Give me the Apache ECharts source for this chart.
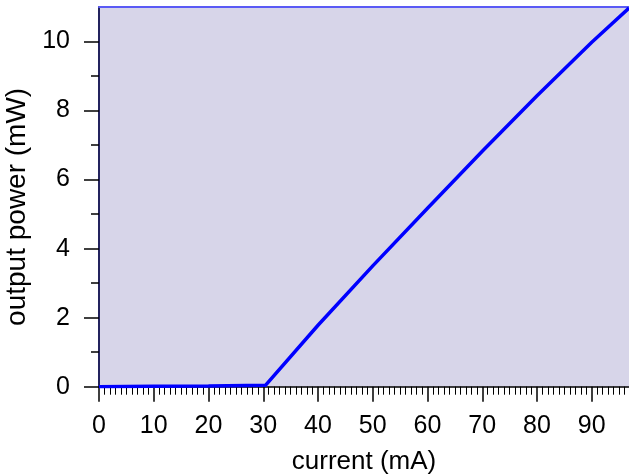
<!DOCTYPE html>
<html>
<head>
<meta charset="utf-8">
<script src="https://cdn.jsdelivr.net/npm/echarts@6/dist/echarts.min.js"></script>
<style>html,body{margin:0;padding:0;background:#fff;}#c{width:629px;height:475px;}</style>
</head>
<body>
<div id="c"></div>
<script>
// current (mA)
var currentMA = [0, 10, 20, 30.4, 40, 50, 60, 70, 80, 90, 96.8];
// output power (mW)
var powerMW = [0, 0.01, 0.02, 0.04, 1.78, 3.50, 5.17, 6.82, 8.43, 9.98, 10.97];
// tick positions / labels
var xMajorTicks = [0, 10, 20, 30, 40, 50, 60, 70, 80, 90];
var xMinorTicks = [];
for (var t = 1; t <= 96; t++) { if (t % 10 !== 0) xMinorTicks.push(t); }
var yMajorTicks = [0, 2, 4, 6, 8, 10];
var yMinorTicks = [1, 3, 5, 7, 9];

var seriesData = currentMA.map(function (x, i) { return [x, powerMW[i]]; });
var font = 'Liberation Sans, Arial, sans-serif';
var X_MAX = 96.8, Y_MAX = 11;

var chart = echarts.init(document.getElementById('c'));
chart.setOption({
  animation: false,
  grid: {
    left: 99, top: 7, width: 530, height: 379.7,
    show: true, backgroundColor: '#d7d5e9', borderWidth: 0,
    containLabel: false, outerBoundsMode: 'none'
  },
  xAxis: [{
    type: 'value', min: 0, max: X_MAX, position: 'bottom',
    name: 'current (mA)', nameLocation: 'middle', nameGap: 62,
    nameTextStyle: { fontSize: 26, color: '#000', fontFamily: font },
    axisLine: { show: true, onZero: false, lineStyle: { color: '#000', width: 1.5 } },
    axisTick: { show: true, length: 15, customValues: xMajorTicks, lineStyle: { color: '#000', width: 1.5 } },
    axisLabel: { fontSize: 25, color: '#000', fontFamily: font, margin: 27, customValues: xMajorTicks },
    splitLine: { show: false }
  }, {
    type: 'value', min: 0, max: X_MAX, position: 'bottom',
    axisLine: { show: false },
    axisTick: { show: true, length: 8, customValues: xMinorTicks, lineStyle: { color: '#000', width: 1 } },
    axisLabel: { show: false }, splitLine: { show: false }
  }, {
    type: 'value', min: 0, max: X_MAX, position: 'top',
    axisLine: { show: true, onZero: false, lineStyle: { color: '#5a5af5', width: 2 } },
    axisTick: { show: false }, axisLabel: { show: false }, splitLine: { show: false }
  }],
  yAxis: [{
    type: 'value', min: 0, max: Y_MAX, position: 'left',
    name: 'output power (mW)', nameLocation: 'middle', nameGap: 62,
    nameTextStyle: { fontSize: 28, color: '#000', fontFamily: font, padding: [0, 20, 0, 0] },
    axisLine: { show: true, onZero: false, lineStyle: { color: '#23235e', width: 2 } },
    axisTick: { show: true, length: 15, customValues: yMajorTicks, lineStyle: { color: '#000', width: 1.5 } },
    axisLabel: { fontSize: 25, color: '#000', fontFamily: font, margin: 29, customValues: yMajorTicks },
    splitLine: { show: false }
  }, {
    type: 'value', min: 0, max: Y_MAX, position: 'left',
    axisLine: { show: false },
    axisTick: { show: true, length: 8, customValues: yMinorTicks, lineStyle: { color: '#000', width: 1.5 } },
    axisLabel: { show: false },
    splitLine: { show: false }
  }],
  series: [{
    type: 'line', xAxisIndex: 0, yAxisIndex: 0,
    data: seriesData, showSymbol: false, symbol: 'none',
    lineStyle: { color: '#0000ff', width: 3.5 },
    clip: true
  }]
});
</script>
</body>
</html>
